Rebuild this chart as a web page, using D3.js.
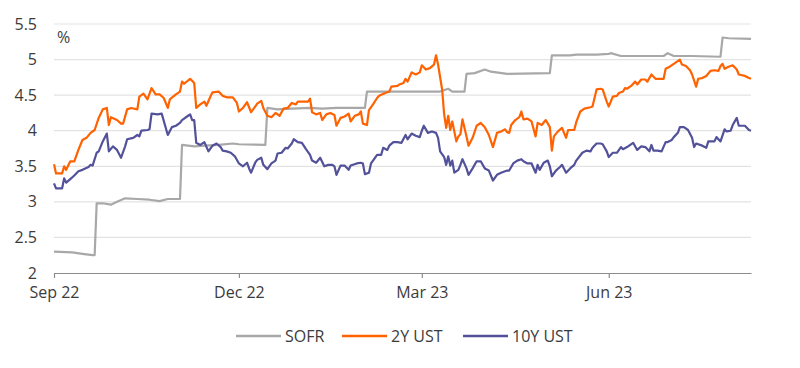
<!DOCTYPE html>
<html>
<head>
<meta charset="utf-8">
<script src="https://cdn.jsdelivr.net/npm/d3@7"></script>
<style>
  html, body { margin: 0; padding: 0; background: #fff; }
  svg { display: block; font-family: "Open Sans", "Noto Sans", sans-serif; }
</style>
</head>
<body>
<svg id="chart" width="800" height="368"></svg>
<script>
// ---------- data ----------
const seriesNames = ["SOFR", "2Y UST", "10Y UST"];
const yTicks = [2, 2.5, 3, 3.5, 4, 4.5, 5, 5.5];
const yTickLabels = ["2", "2.5", "3", "3.5", "4", "4.5", "5", "5.5"];
const xTickDates = ["2022-09-01", "2022-12-01", "2023-03-01", "2023-06-01"];
const xTickLabels = ["Sep 22", "Dec 22", "Mar 23", "Jun 23"];
const xDomain = ["2022-09-01", "2023-08-10"];

const sofr = [
  ["2022-09-01",2.30],["2022-09-10",2.29],["2022-09-15",2.27],["2022-09-20",2.25],["2022-09-21",2.25],
  ["2022-09-22",2.98],["2022-09-25",2.98],["2022-09-29",2.96],["2022-10-02",3.00],["2022-10-06",3.05],
  ["2022-10-12",3.04],["2022-10-18",3.03],["2022-10-23",3.01],["2022-10-27",3.04],["2022-11-02",3.04],
  ["2022-11-03",3.80],["2022-11-09",3.78],["2022-11-14",3.79],["2022-11-21",3.80],["2022-11-28",3.82],
  ["2022-12-01",3.81],["2022-12-14",3.80],["2022-12-15",4.32],["2022-12-20",4.30],["2022-12-27",4.31],
  ["2023-01-05",4.32],["2023-01-11",4.31],["2023-01-18",4.32],["2023-01-25",4.32],["2023-02-01",4.32],
  ["2023-02-02",4.55],["2023-02-15",4.55],["2023-03-10",4.55],["2023-03-14",4.59],["2023-03-16",4.55],
  ["2023-03-22",4.55],["2023-03-23",4.80],["2023-03-27",4.81],["2023-04-01",4.86],["2023-04-04",4.83],
  ["2023-04-12",4.80],["2023-05-03",4.81],["2023-05-04",5.06],["2023-05-13",5.06],["2023-05-16",5.07],
  ["2023-05-26",5.07],["2023-06-01",5.08],["2023-06-02",5.09],["2023-06-07",5.05],["2023-06-14",5.05],
  ["2023-06-28",5.05],["2023-06-30",5.09],["2023-07-03",5.05],["2023-07-12",5.05],["2023-07-26",5.04],
  ["2023-07-27",5.31],["2023-07-30",5.30],["2023-08-10",5.29]
];

const ust2y = [
  ["2022-09-01",3.53],["2022-09-02",3.40],["2022-09-05",3.40],["2022-09-06",3.50],["2022-09-07",3.45],
  ["2022-09-09",3.57],["2022-09-11",3.57],["2022-09-13",3.73],["2022-09-15",3.87],["2022-09-17",3.90],
  ["2022-09-19",3.97],["2022-09-21",4.01],["2022-09-23",4.18],["2022-09-25",4.30],["2022-09-27",4.32],
  ["2022-09-28",4.08],["2022-09-29",4.19],["2022-10-02",4.15],["2022-10-04",4.10],["2022-10-05",4.10],
  ["2022-10-07",4.30],["2022-10-09",4.32],["2022-10-12",4.30],["2022-10-13",4.48],["2022-10-15",4.52],
  ["2022-10-17",4.44],["2022-10-19",4.60],["2022-10-21",4.51],["2022-10-23",4.51],["2022-10-25",4.46],
  ["2022-10-27",4.32],["2022-10-28",4.44],["2022-10-31",4.51],["2022-11-02",4.55],["2022-11-03",4.69],
  ["2022-11-04",4.66],["2022-11-07",4.73],["2022-11-09",4.67],["2022-11-10",4.32],["2022-11-12",4.37],
  ["2022-11-14",4.41],["2022-11-15",4.35],["2022-11-17",4.48],["2022-11-18",4.54],["2022-11-21",4.55],
  ["2022-11-23",4.49],["2022-11-25",4.47],["2022-11-28",4.47],["2022-11-30",4.39],["2022-12-01",4.27],
  ["2022-12-03",4.32],["2022-12-05",4.40],["2022-12-07",4.26],["2022-12-09",4.34],["2022-12-10",4.38],
  ["2022-12-12",4.42],["2022-12-13",4.32],["2022-12-15",4.21],["2022-12-17",4.19],["2022-12-19",4.25],
  ["2022-12-21",4.21],["2022-12-23",4.31],["2022-12-25",4.32],["2022-12-27",4.39],["2022-12-29",4.37],
  ["2022-12-30",4.41],["2023-01-02",4.41],["2023-01-04",4.41],["2023-01-05",4.45],["2023-01-06",4.26],
  ["2023-01-08",4.23],["2023-01-10",4.25],["2023-01-11",4.15],["2023-01-13",4.23],["2023-01-15",4.25],
  ["2023-01-17",4.22],["2023-01-18",4.07],["2023-01-20",4.18],["2023-01-22",4.20],["2023-01-24",4.24],
  ["2023-01-25",4.13],["2023-01-27",4.21],["2023-01-29",4.23],["2023-01-30",4.27],["2023-01-31",4.10],
  ["2023-02-02",4.08],["2023-02-03",4.29],["2023-02-05",4.37],["2023-02-07",4.46],["2023-02-08",4.49],
  ["2023-02-11",4.53],["2023-02-13",4.55],["2023-02-14",4.62],["2023-02-17",4.63],["2023-02-18",4.65],
  ["2023-02-20",4.67],["2023-02-21",4.73],["2023-02-22",4.69],["2023-02-24",4.82],["2023-02-26",4.79],
  ["2023-02-28",4.82],["2023-03-01",4.92],["2023-03-03",4.86],["2023-03-05",4.88],["2023-03-07",4.93],
  ["2023-03-08",5.06],["2023-03-09",4.93],["2023-03-11",4.58],["2023-03-12",4.23],["2023-03-13",4.04],
  ["2023-03-14",4.21],["2023-03-15",4.01],["2023-03-16",4.13],["2023-03-18",3.85],["2023-03-19",3.92],
  ["2023-03-20",3.95],["2023-03-21",4.16],["2023-03-23",3.92],["2023-03-24",3.79],["2023-03-26",3.90],
  ["2023-03-28",4.07],["2023-03-30",4.11],["2023-04-01",4.05],["2023-04-03",3.94],["2023-04-05",3.77],
  ["2023-04-07",3.97],["2023-04-09",3.99],["2023-04-11",4.02],["2023-04-12",3.98],["2023-04-13",3.97],
  ["2023-04-14",4.08],["2023-04-16",4.15],["2023-04-18",4.19],["2023-04-19",4.27],["2023-04-20",4.16],
  ["2023-04-22",4.17],["2023-04-24",4.13],["2023-04-26",3.92],["2023-04-27",4.11],["2023-04-29",4.08],
  ["2023-05-01",4.15],["2023-05-03",4.05],["2023-05-04",3.72],["2023-05-05",3.92],["2023-05-07",3.99],
  ["2023-05-09",4.04],["2023-05-11",3.90],["2023-05-12",4.01],["2023-05-15",4.01],["2023-05-16",4.12],
  ["2023-05-18",4.27],["2023-05-20",4.31],["2023-05-23",4.33],["2023-05-24",4.34],["2023-05-26",4.58],
  ["2023-05-28",4.59],["2023-05-29",4.58],["2023-05-31",4.41],["2023-06-01",4.34],["2023-06-03",4.48],
  ["2023-06-05",4.49],["2023-06-06",4.53],["2023-06-08",4.55],["2023-06-09",4.60],["2023-06-10",4.59],
  ["2023-06-12",4.63],["2023-06-14",4.69],["2023-06-15",4.65],["2023-06-17",4.72],["2023-06-19",4.72],
  ["2023-06-20",4.69],["2023-06-22",4.79],["2023-06-24",4.73],["2023-06-26",4.73],["2023-06-28",4.73],
  ["2023-06-29",4.87],["2023-07-01",4.90],["2023-07-03",4.94],["2023-07-06",5.00],["2023-07-07",4.93],
  ["2023-07-09",4.91],["2023-07-11",4.85],["2023-07-12",4.79],["2023-07-14",4.62],["2023-07-15",4.73],
  ["2023-07-17",4.74],["2023-07-19",4.77],["2023-07-21",4.84],["2023-07-23",4.85],["2023-07-25",4.84],
  ["2023-07-26",4.91],["2023-07-27",4.94],["2023-07-28",4.87],["2023-07-30",4.90],["2023-08-01",4.92],
  ["2023-08-03",4.86],["2023-08-04",4.79],["2023-08-07",4.77],["2023-08-09",4.74],["2023-08-10",4.73]
];

const ust10y = [
  ["2022-09-01",3.26],["2022-09-02",3.19],["2022-09-05",3.19],["2022-09-06",3.33],["2022-09-07",3.27],
  ["2022-09-09",3.32],["2022-09-11",3.37],["2022-09-13",3.43],["2022-09-15",3.45],["2022-09-18",3.49],
  ["2022-09-19",3.52],["2022-09-20",3.51],["2022-09-22",3.69],["2022-09-23",3.71],["2022-09-25",3.85],
  ["2022-09-27",3.96],["2022-09-28",3.71],["2022-09-30",3.78],["2022-10-02",3.73],["2022-10-04",3.62],
  ["2022-10-06",3.78],["2022-10-07",3.88],["2022-10-10",3.90],["2022-10-12",3.94],["2022-10-13",3.92],
  ["2022-10-14",4.00],["2022-10-17",4.01],["2022-10-18",4.02],["2022-10-19",4.24],["2022-10-22",4.23],
  ["2022-10-24",4.24],["2022-10-27",3.94],["2022-10-29",4.05],["2022-10-31",4.07],["2022-11-02",4.11],
  ["2022-11-03",4.15],["2022-11-06",4.21],["2022-11-07",4.23],["2022-11-08",4.15],["2022-11-09",4.15],
  ["2022-11-10",3.83],["2022-11-12",3.80],["2022-11-14",3.84],["2022-11-16",3.71],["2022-11-18",3.79],
  ["2022-11-20",3.82],["2022-11-22",3.77],["2022-11-23",3.72],["2022-11-25",3.71],["2022-11-27",3.69],
  ["2022-11-29",3.64],["2022-12-01",3.54],["2022-12-03",3.50],["2022-12-05",3.55],["2022-12-06",3.47],
  ["2022-12-07",3.41],["2022-12-09",3.55],["2022-12-10",3.59],["2022-12-12",3.62],["2022-12-13",3.52],
  ["2022-12-15",3.46],["2022-12-17",3.54],["2022-12-19",3.58],["2022-12-20",3.68],["2022-12-22",3.69],
  ["2022-12-24",3.76],["2022-12-25",3.75],["2022-12-27",3.82],["2022-12-28",3.88],["2022-12-30",3.84],
  ["2023-01-01",3.83],["2023-01-03",3.74],["2023-01-05",3.66],["2023-01-06",3.58],["2023-01-08",3.55],
  ["2023-01-10",3.62],["2023-01-12",3.50],["2023-01-14",3.52],["2023-01-16",3.52],["2023-01-17",3.50],
  ["2023-01-18",3.38],["2023-01-20",3.51],["2023-01-22",3.51],["2023-01-24",3.45],["2023-01-25",3.51],
  ["2023-01-28",3.54],["2023-01-30",3.55],["2023-01-31",3.54],["2023-02-01",3.39],["2023-02-03",3.41],
  ["2023-02-04",3.54],["2023-02-05",3.58],["2023-02-07",3.66],["2023-02-09",3.66],["2023-02-10",3.76],
  ["2023-02-12",3.73],["2023-02-13",3.79],["2023-02-15",3.84],["2023-02-17",3.84],["2023-02-19",3.83],
  ["2023-02-21",3.94],["2023-02-22",3.88],["2023-02-24",3.96],["2023-02-26",3.93],["2023-02-28",3.91],
  ["2023-03-01",4.00],["2023-03-02",4.07],["2023-03-04",3.97],["2023-03-06",3.99],["2023-03-08",3.97],
  ["2023-03-09",3.90],["2023-03-10",3.71],["2023-03-12",3.63],["2023-03-13",3.52],["2023-03-14",3.64],
  ["2023-03-15",3.51],["2023-03-16",3.58],["2023-03-17",3.41],["2023-03-19",3.45],["2023-03-20",3.52],
  ["2023-03-21",3.60],["2023-03-23",3.47],["2023-03-24",3.38],["2023-03-26",3.47],["2023-03-28",3.57],
  ["2023-03-30",3.57],["2023-04-01",3.47],["2023-04-03",3.44],["2023-04-05",3.30],["2023-04-07",3.38],
  ["2023-04-09",3.41],["2023-04-12",3.44],["2023-04-13",3.44],["2023-04-15",3.54],["2023-04-17",3.58],
  ["2023-04-19",3.60],["2023-04-20",3.57],["2023-04-22",3.54],["2023-04-24",3.54],["2023-04-26",3.41],
  ["2023-04-27",3.52],["2023-04-28",3.45],["2023-04-30",3.55],["2023-05-02",3.58],["2023-05-03",3.50],
  ["2023-05-04",3.36],["2023-05-06",3.44],["2023-05-08",3.49],["2023-05-09",3.52],["2023-05-11",3.41],
  ["2023-05-13",3.47],["2023-05-15",3.52],["2023-05-16",3.58],["2023-05-19",3.69],["2023-05-21",3.72],
  ["2023-05-23",3.71],["2023-05-24",3.76],["2023-05-26",3.82],["2023-05-28",3.82],["2023-05-29",3.81],
  ["2023-05-31",3.71],["2023-06-01",3.63],["2023-06-03",3.69],["2023-06-05",3.69],["2023-06-07",3.77],
  ["2023-06-08",3.74],["2023-06-10",3.77],["2023-06-13",3.83],["2023-06-15",3.73],["2023-06-17",3.78],
  ["2023-06-19",3.77],["2023-06-21",3.71],["2023-06-22",3.80],["2023-06-23",3.72],["2023-06-25",3.72],
  ["2023-06-27",3.71],["2023-06-29",3.84],["2023-06-30",3.84],["2023-07-02",3.87],["2023-07-03",3.91],
  ["2023-07-05",3.97],["2023-07-06",4.05],["2023-07-08",4.05],["2023-07-10",4.01],["2023-07-12",3.90],
  ["2023-07-13",3.77],["2023-07-14",3.82],["2023-07-17",3.79],["2023-07-19",3.76],["2023-07-20",3.85],
  ["2023-07-23",3.85],["2023-07-24",3.91],["2023-07-26",3.85],["2023-07-28",4.02],["2023-07-29",3.99],
  ["2023-07-31",4.00],["2023-08-01",4.08],["2023-08-03",4.18],["2023-08-04",4.07],["2023-08-07",4.07],
  ["2023-08-09",4.01],["2023-08-10",4.00]
];

const seriesColors = ["#a8a8a8", "#ff6200", "#525199"];

// ---------- chart ----------
const parse = d3.timeParse("%Y-%m-%d");
const svg = d3.select("#chart");
const plotLeft = 54, plotRight = 751, plotTop = 24, plotBottom = 273;
const fontSize = 16, textColor = "#3c3c3c";

const x = d3.scaleTime().domain(xDomain.map(parse)).range([plotLeft, plotRight]);
const y = d3.scaleLinear().domain([2, 5.5]).range([plotBottom, plotTop]);

// gridlines
svg.append("g").selectAll("line")
  .data(yTicks.filter(v => v > 2))
  .join("line")
  .attr("x1", plotLeft).attr("x2", plotRight)
  .attr("y1", d => y(d)).attr("y2", d => y(d))
  .attr("stroke", "#e3e3e3").attr("stroke-width", 1.2);

// y axis labels
const yAxis = d3.axisLeft(y).tickValues(yTicks)
  .tickFormat((d, i) => yTickLabels[i]).tickSize(0).tickPadding(0);
const gy = svg.append("g").attr("transform", `translate(37,0)`).call(yAxis);
gy.select(".domain").remove();
gy.selectAll("text").attr("font-size", fontSize).attr("fill", textColor)
  .attr("font-family", '"Open Sans", sans-serif');

// % unit
svg.append("text").attr("x", 57).attr("y", 43).text("%")
  .attr("font-size", fontSize).attr("fill", textColor);

// x axis
const xAxis = d3.axisBottom(x).tickValues(xTickDates.map(parse))
  .tickFormat((d, i) => xTickLabels[i]).tickSize(5).tickSizeOuter(0).tickPadding(9);
const gx = svg.append("g").attr("transform", `translate(0,${plotBottom})`).call(xAxis);
gx.select(".domain").attr("stroke", "#8c8c8c").attr("stroke-width", 1.2);
gx.selectAll(".tick line").attr("stroke", "#8c8c8c").attr("stroke-width", 1.2);
gx.selectAll("text").attr("font-size", fontSize).attr("fill", textColor)
  .attr("font-family", '"Open Sans", sans-serif');

// lines
const line = d3.line().x(d => x(parse(d[0]))).y(d => y(d[1]));
const allSeries = [sofr, ust2y, ust10y];
svg.append("g").selectAll("path")
  .data(allSeries)
  .join("path")
  .attr("d", d => line(d))
  .attr("fill", "none")
  .attr("stroke", (d, i) => seriesColors[i])
  .attr("stroke-width", 2.2)
  .attr("stroke-linejoin", "round");

// legend
const legendX = [236, 342, 463];
const lg = svg.append("g").selectAll("g").data(seriesNames).join("g")
  .attr("transform", (d, i) => `translate(${legendX[i]},336)`);
lg.append("line").attr("x1", 0).attr("x2", 45).attr("y1", 0).attr("y2", 0)
  .attr("stroke", (d, i) => seriesColors[i]).attr("stroke-width", 2.5);
lg.append("text").attr("x", 49).attr("y", 0).attr("dy", "0.35em")
  .text(d => d).attr("font-size", fontSize).attr("fill", textColor);
</script>
</body>
</html>
